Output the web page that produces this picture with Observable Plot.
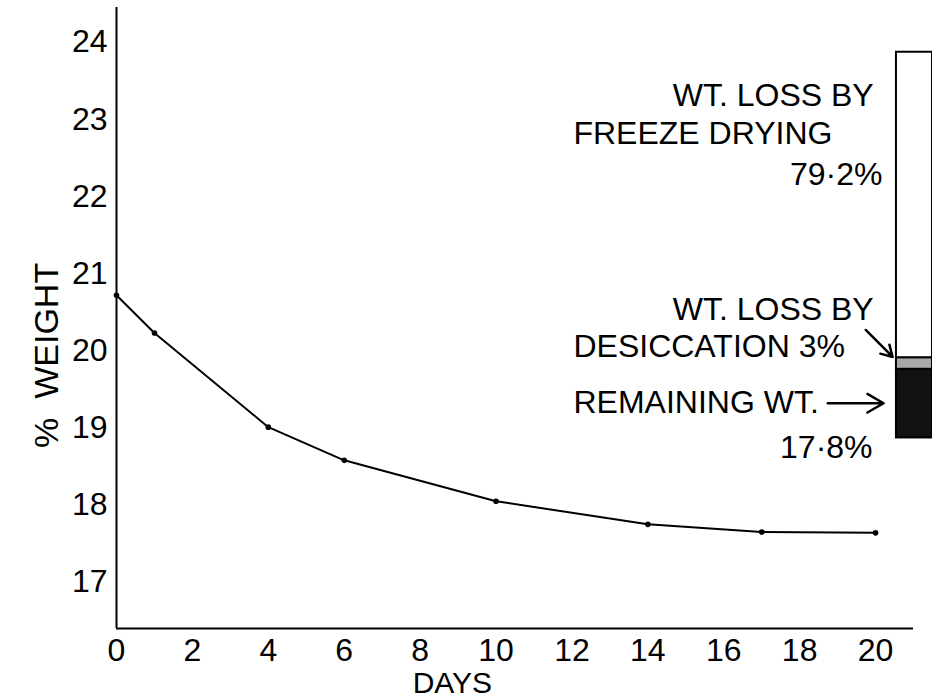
<!DOCTYPE html>
<html>
<head>
<meta charset="utf-8">
<script src="https://cdn.jsdelivr.net/npm/d3@7"></script>
<script src="https://cdn.jsdelivr.net/npm/@observablehq/plot@0.6"></script>
<style>
  html, body { margin: 0; padding: 0; background: #fff; overflow: hidden; }
  #chart svg { display: block; }
</style>
</head>
<body>
<div id="chart"></div>
<script>
// ---- data ----
const days = [0, 1, 4, 6, 10, 14, 17, 20];
const weight = [20.72, 20.23, 19.01, 18.58, 18.05, 17.75, 17.65, 17.64];

const xTicks = [0, 2, 4, 6, 8, 10, 12, 14, 16, 18, 20];
const yTicks = [17, 18, 19, 20, 21, 22, 23, 24];

// stacked bar: share of original weight (%)
const barParts = ["REMAINING WT.", "WT. LOSS BY DESICCATION", "WT. LOSS BY FREEZE DRYING"];
const barPercents = [17.8, 3, 79.2];
const barColors = ["#111", "#a8a8a8", "#fff"];

const labelTexts = ["WT. LOSS BY", "FREEZE DRYING", "79·2%", "WT. LOSS BY", "DESICCATION 3%", "REMAINING WT.", "17·8%"];
const labelX = [19.95, 12.04, 20.18, 19.95, 12.04, 12.04, 19.92];
const labelY = [23.31, 22.81, 22.28, 20.53, 20.05, 19.33, 18.74];
const labelAnchor = ["end", "start", "end", "end", "start", "start", "end"];

// ---- derived tables ----
const series = days.map((d, i) => ({day: d, weight: weight[i]}));

const barBase = 18.87;      // y position of bar bottom (chart units)
const barUnitsPerPct = 0.05; // bar height per percent
const barX1 = 20.55, barX2 = 21.5;
let acc = barBase;
const barSegments = barPercents.map((p, i) => {
  const y1 = acc; acc += p * barUnitsPerPct;
  return {part: barParts[i], y1, y2: acc, fill: barColors[i]};
});

const labels = labelTexts.map((t, i) => ({text: t, x: labelX[i], y: labelY[i], anchor: labelAnchor[i]}));
const arrows = [
  {x1: 19.74, y1: 20.27, x2: 20.45, y2: 19.92},
  {x1: 18.74, y1: 19.32, x2: 20.21, y2: 19.32}
];

const FONT = "Liberation Sans, Arial, sans-serif";
const xDomain = [0, 21.5];
const yDomain = [16.4, 24.45];

const chart = Plot.plot({
  width: 932,
  height: 699,
  marginLeft: 116,
  marginRight: 0,
  marginTop: 7,
  marginBottom: 71,
  style: {fontFamily: FONT, background: "#fff", color: "#000", overflow: "hidden"},
  x: {domain: xDomain, axis: null},
  y: {domain: yDomain, axis: null},
  marks: [
    Plot.axisX({ticks: xTicks, tickSize: 0, tickPadding: 10, fontSize: 32, label: null, fill: "#000"}),
    Plot.axisY({ticks: yTicks, tickSize: 0, tickPadding: 9, fontSize: 32, label: null, fill: "#000"}),
    // axis lines
    Plot.ruleX([0], {y1: yDomain[0], y2: yDomain[1], stroke: "#000", strokeWidth: 2}),
    Plot.ruleY([yDomain[0]], {x1: 0, x2: 21, stroke: "#000", strokeWidth: 2}),
    // bar
    Plot.rect(barSegments, {x1: barX1, x2: barX2, y1: "y1", y2: "y2", fill: "fill", stroke: "#000", strokeWidth: 2}),
    // series
    Plot.line(series, {x: "day", y: "weight", stroke: "#000", strokeWidth: 2}),
    Plot.dot(series, {x: "day", y: "weight", r: 2.8, fill: "#000"}),
    // annotations
    Plot.text(labels.filter(d => d.anchor === "end"), {x: "x", y: "y", text: "text", textAnchor: "end", fontSize: 32, fill: "#000"}),
    Plot.text(labels.filter(d => d.anchor === "start"), {x: "x", y: "y", text: "text", textAnchor: "start", fontSize: 32, fill: "#000"}),
    Plot.arrow(arrows, {x1: "x1", y1: "y1", x2: "x2", y2: "y2", stroke: "#000", strokeWidth: 2.5, headLength: 14}),
    // axis titles
    Plot.text(["DAYS"], {x: 8.85, y: 15.69, text: d => d, fontSize: 30, fill: "#000"}),
    Plot.text(["%\u00a0\u00a0WEIGHT"], {x: -1.82, y: 19.94, text: d => d, rotate: -90, fontSize: 34, fill: "#000"})
  ]
});
document.getElementById("chart").appendChild(chart);
</script>
</body>
</html>
